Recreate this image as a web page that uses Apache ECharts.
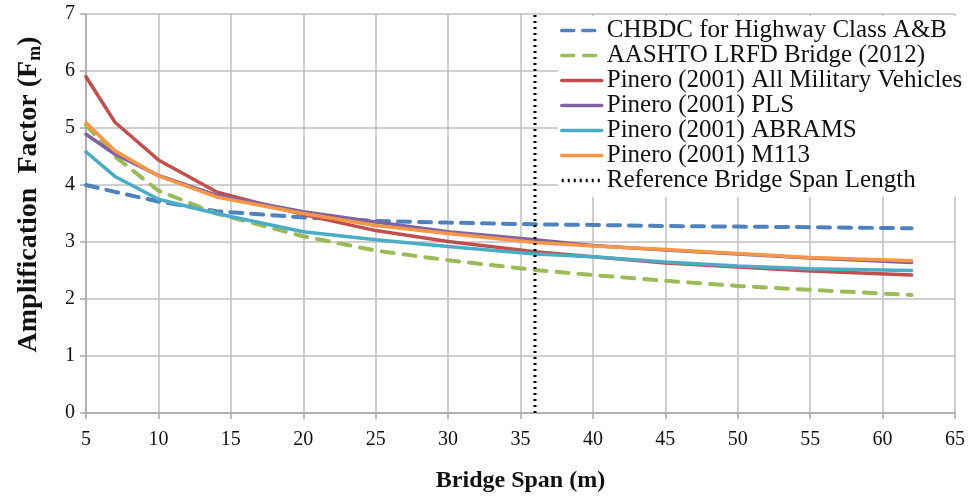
<!DOCTYPE html>
<html>
<head>
<meta charset="utf-8">
<script src="https://cdn.jsdelivr.net/npm/echarts@6/dist/echarts.min.js"></script>
<style>
  html, body { margin: 0; padding: 0; background: #fff; }
  #chart { width: 972px; height: 498px; }
</style>
</head>
<body>
<div id="chart"></div>
<script>
// Bridge spans (m) at which each curve is evaluated
const spans = [5, 7, 10, 14, 20, 25, 30, 36, 40, 45, 50, 55, 62];

// Amplification factor Fm for each curve
const chbdc      = [4.00, 3.88, 3.71, 3.54, 3.43, 3.37, 3.34, 3.31, 3.30, 3.28, 3.27, 3.26, 3.24];
const aashto     = [5.05, 4.50, 3.90, 3.50, 3.10, 2.85, 2.68, 2.51, 2.42, 2.32, 2.23, 2.16, 2.07];
const pineroAll  = [5.90, 5.10, 4.44, 3.88, 3.48, 3.20, 3.01, 2.83, 2.74, 2.63, 2.56, 2.49, 2.42];
const pineroPLS  = [4.89, 4.54, 4.17, 3.82, 3.53, 3.35, 3.18, 3.04, 2.94, 2.86, 2.79, 2.72, 2.64];
const pineroAbr  = [4.58, 4.15, 3.75, 3.50, 3.18, 3.04, 2.92, 2.79, 2.74, 2.65, 2.58, 2.53, 2.50];
const pineroM113 = [5.09, 4.60, 4.16, 3.79, 3.50, 3.29, 3.15, 2.99, 2.93, 2.87, 2.80, 2.73, 2.67];

// Reference span marker (vertical line across the full y range)
const refSpan = [36, 36];
const refFm   = [0, 7];

// Axis tick values
const xTicks = [5, 10, 15, 20, 25, 30, 35, 40, 45, 50, 55, 60, 65];
const yTicks = [0, 1, 2, 3, 4, 5, 6, 7];

const names = [
  'CHBDC for Highway Class A&B',
  'AASHTO LRFD Bridge (2012)',
  'Pinero (2001) All Military Vehicles',
  'Pinero (2001) PLS',
  'Pinero (2001) ABRAMS',
  'Pinero (2001) M113',
  'Reference Bridge Span Length'
];

const zip = (xs, ys) => xs.map((x, i) => [x, ys[i]]);
const FONT = '"Liberation Serif", "Times New Roman", serif';

function curve(name, values, color, type, width) {
  return {
    name: name,
    type: 'line',
    data: zip(spans, values),
    symbol: 'none',
    smooth: false,
    lineStyle: { color: color, width: width, type: type, cap: 'round' },
    itemStyle: { color: color },
    z: 3
  };
}

const chart = echarts.init(document.getElementById('chart'), null, { renderer: 'canvas' });

chart.setOption({
  animation: false,
  backgroundColor: '#fff',
  grid: { left: 86, right: 17, top: 14, bottom: 85, containLabel: false },
  xAxis: {
    type: 'value',
    min: 5,
    max: 65,
    interval: 5,
    name: 'Bridge Span (m)',
    nameLocation: 'middle',
    nameGap: 56,
    nameTextStyle: { fontFamily: FONT, fontSize: 24, fontWeight: 'bold', color: '#111' },
    axisLine: { show: true, lineStyle: { color: '#a6a6a6', width: 1.5 } },
    axisTick: { show: true, length: 6, lineStyle: { color: '#a6a6a6', width: 1.5 } },
    axisLabel: {
      fontFamily: FONT, fontSize: 20, color: '#111', margin: 17,
      formatter: v => (xTicks.indexOf(v) >= 0 ? String(v) : '')
    },
    splitLine: { show: true, lineStyle: { color: '#bfbfbf', width: 1.5 } }
  },
  yAxis: {
    type: 'value',
    min: 0,
    max: 7,
    interval: 1,
    name: '{t|Amplification  Factor (F}{s|m}{t|)}',
    nameLocation: 'middle',
    nameGap: 42,
    nameRotate: 90,
    nameTextStyle: {
      padding: [0, 0, 0, 38],
      rich: {
        t: { fontFamily: FONT, fontSize: 28, fontWeight: 'bold', color: '#111' },
        s: { fontFamily: FONT, fontSize: 18, fontWeight: 'bold', color: '#111', padding: [12, 0, 0, 0] }
      }
    },
    axisLine: { show: true, lineStyle: { color: '#a6a6a6', width: 1.5 } },
    axisTick: { show: true, length: 6, lineStyle: { color: '#a6a6a6', width: 1.5 } },
    axisLabel: {
      fontFamily: FONT, fontSize: 20, color: '#111', margin: 11,
      formatter: v => (yTicks.indexOf(v) >= 0 ? String(v) : '')
    },
    splitLine: { show: true, lineStyle: { color: '#bfbfbf', width: 1.5 } }
  },
  legend: {
    orient: 'vertical',
    left: 558,
    top: 16,
    itemWidth: 40,
    itemHeight: 12,
    itemGap: 0,
    padding: [2, 10, 4, 2],
    backgroundColor: '#fff',
    itemStyle: { opacity: 0 },
    lineStyle: { width: 3.5 },
    textStyle: { fontFamily: FONT, fontSize: 25, color: '#111' },
    data: names,
    z: 10
  },
  series: [
    curve(names[0], chbdc,      '#4F81BD', [12, 9], 4),
    curve(names[1], aashto,     '#9BBB59', [12, 10], 4),
    curve(names[2], pineroAll,  '#C0504D', 'solid', 3.5),
    curve(names[3], pineroPLS,  '#8064A2', 'solid', 3.5),
    curve(names[4], pineroAbr,  '#4BACC6', 'solid', 3.5),
    curve(names[5], pineroM113, '#F79646', 'solid', 3.5),
    {
      name: names[6],
      type: 'line',
      data: zip(refSpan, refFm),
      symbol: 'none',
      lineStyle: { color: '#000', width: 3, type: [2, 4] },
      itemStyle: { color: '#000' },
      z: 4
    }
  ]
});
</script>
</body>
</html>
